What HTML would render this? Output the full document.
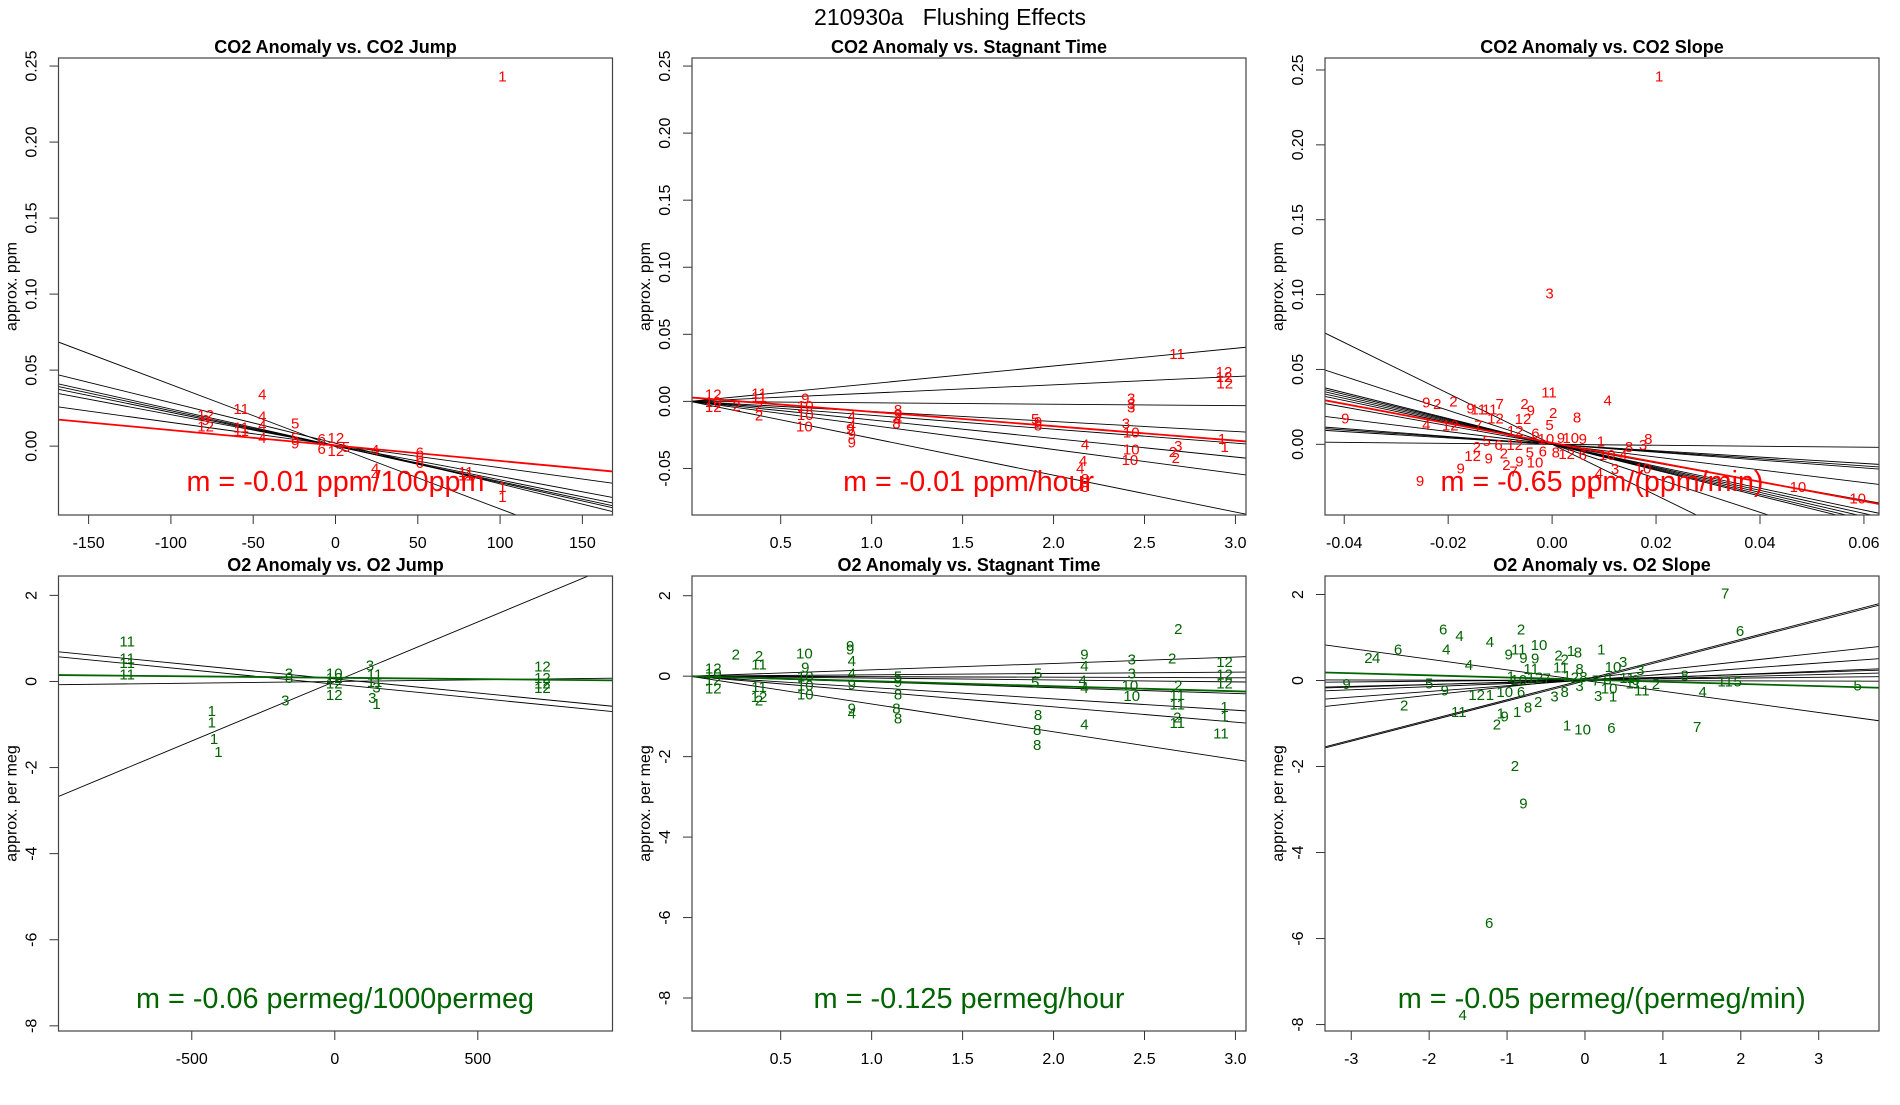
<!DOCTYPE html>
<html><head><meta charset="utf-8"><title>210930a Flushing Effects</title>
<style>
html,body{margin:0;padding:0;background:#fff;}
svg text{font-family:"Liberation Sans",Arial,sans-serif;}
</style></head>
<body>
<svg id="chart" xmlns="http://www.w3.org/2000/svg" width="1900" height="1100" viewBox="0 0 1900 1100">
<rect x="0" y="0" width="1900" height="1100" fill="#fff"/>
<text x="950" y="25" text-anchor="middle" font-size="23" style="white-space:pre">210930a&#160;&#160;&#160;Flushing Effects</text>
</svg>
<script>
// ---------- Panel 1: CO2 Anomaly vs. CO2 Jump ----------
const p1PtX = [101.4,-44.5,-57.3,-78.9,-78.9,-78.9,-57.3,-57.3,-44.5,-44.5,-44.5,-24.5,-24.5,-24.5,-8.4,0.2,-8.4,0.2,6.5,24.1,24.1,24.1,51.2,51.2,51.2,79.2,79.2,101.4,101.4];
const p1PtY = [0.2434,0.0343,0.0249,0.0209,0.0174,0.0134,0.0127,0.0103,0.0198,0.0139,0.0057,0.0151,0.0057,0.0021,0.0049,0.0057,-0.0014,-0.003,-0.0002,-0.0021,-0.0143,-0.019,-0.0037,-0.0073,-0.0108,-0.0167,-0.019,-0.0265,-0.0331];
const p1PtLab = ["1","4","11","12","9","12","11","11","4","4","4","5","5","9","6","12","6","12","5","4","4","4","6","6","6","11","11","1","1"];
const p1Slope = [-0.000409,-0.000267,-0.000242,-0.000233,-0.000222,-0.000203,-0.0001489];
const p1Icpt = [-0.0004,0.0019,0.0002,0.0,0.0,0.0004,0.0007];
const p1Fit = [-0.0001013,0.0004];
const p1XTicks = [-150,-100,-50,0,50,100,150];
const p1XTickLab = ["-150","-100","-50","0","50","100","150"];
const p1YTicks = [0,0.05,0.10,0.15,0.20,0.25];
const p1YTickLab = ["0.00","0.05","0.10","0.15","0.20","0.25"];

// ---------- Panel 2: CO2 Anomaly vs. Stagnant Time ----------
const p2PtX = [2.679,2.937,2.937,2.941,2.427,2.427,2.427,2.398,2.427,2.427,2.420,2.686,2.656,2.672,2.926,2.941,2.173,2.162,2.147,2.173,2.173,1.899,1.915,1.915,1.145,1.145,1.145,1.136,0.891,0.891,0.882,0.891,0.891,0.635,0.635,0.635,0.630,0.381,0.381,0.381,0.381,0.257,0.129,0.129,0.129];
const p2PtY = [0.0356,0.0223,0.0184,0.0138,0.0024,-0.0016,-0.0043,-0.0162,-0.0229,-0.0354,-0.0434,-0.033,-0.0375,-0.042,-0.0277,-0.0335,-0.0319,-0.0441,-0.0495,-0.0574,-0.0633,-0.0128,-0.0149,-0.0176,-0.0061,-0.0096,-0.0128,-0.0162,-0.0109,-0.0176,-0.0202,-0.0242,-0.0301,0.0024,-0.0029,-0.0096,-0.0184,0.0064,0.0037,-0.0029,-0.0101,-0.0029,0.0056,0.0,-0.0037];
const p2PtLab = ["11","12","12","12","3","3","3","3","10","10","10","3","2","2","1","1","4","4","4","8","8","5","9","8","8","9","4","8","4","4","9","9","9","9","10","10","10","11","11","2","2","2","12","10","12"];
const p2Slope = [0.0132,0.00618,-0.00105,-0.00749,-0.01037,-0.01383,-0.01792,-0.0275];
const p2Icpt = [0,0,0,0,0,0,0,0];
const p2Fit = [-0.01074,0.0030];
const p2XTicks = [0.5,1.0,1.5,2.0,2.5,3.0];
const p2XTickLab = ["0.5","1.0","1.5","2.0","2.5","3.0"];
const p2YTicks = [-0.05,0,0.05,0.10,0.15,0.20,0.25];
const p2YTickLab = ["-0.05","0.00","0.05","0.10","0.15","0.20","0.25"];

// ---------- Panel 3: CO2 Anomaly vs. CO2 Slope ----------
const p3PtX = [0.0206,-0.0005,-0.0006,0.0107,-0.0242,-0.0221,-0.019,-0.0157,-0.0142,-0.012,-0.0101,-0.0109,-0.0053,-0.0041,0.0002,-0.0056,0.0048,-0.0005,-0.0398,-0.0242,-0.0196,-0.0142,-0.0071,-0.0032,-0.0126,-0.0103,-0.0072,-0.0012,0.0017,0.0036,0.0059,0.0094,0.0185,0.0175,0.0148,-0.0145,-0.0153,-0.0122,-0.0093,-0.0043,-0.0018,0.0007,0.0028,0.0059,0.0106,0.0137,-0.0176,-0.0088,-0.0074,-0.0063,-0.0033,0.0121,0.0175,0.009,-0.0254,0.0473,0.0588,0.0075];
const p3PtY = [0.2459,0.1011,0.0351,0.0296,0.0284,0.0272,0.0291,0.0241,0.0236,0.0236,0.0272,0.0177,0.0272,0.0229,0.0212,0.0172,0.0184,0.0134,0.0177,0.0134,0.0129,0.0129,0.0093,0.0076,0.0026,0.0,0.0,0.0038,0.0045,0.0045,0.0038,0.0021,0.0038,-0.0002,-0.0014,-0.0014,-0.0074,-0.0091,-0.0057,-0.005,-0.0043,-0.005,-0.0062,-0.0067,-0.0067,-0.0067,-0.0157,-0.0134,-0.0177,-0.011,-0.0117,-0.0162,-0.0157,-0.0193,-0.0241,-0.0281,-0.0358,-0.0324];
const p3PtLab = ["1","3","11","4","9","2","2","9","11","11","7","12","2","9","2","12","8","5","9","4","12","7","12","6","5","6","12","10","9","10","9","1","8","3","8","2","12","9","2","5","6","8","12","6","10","4","9","2","7","9","10","3","10","4","9","10","10","1"];
const p3Slope = [-1.70,-1.135,-0.863,-0.835,-0.803,-0.769,-0.732,-0.622,-0.426,-0.263,-0.240,-0.213,-0.032];
const p3Icpt = [0,0,0,0,0,0,0,0,0,0,0,0,0];
const p3Fit = [-0.65,0.001];
const p3XTicks = [-0.04,-0.02,0,0.02,0.04,0.06];
const p3XTickLab = ["-0.04","-0.02","0.00","0.02","0.04","0.06"];
const p3YTicks = [0,0.05,0.10,0.15,0.20,0.25];
const p3YTickLab = ["0.00","0.05","0.10","0.15","0.20","0.25"];

// ---------- Panel 4: O2 Anomaly vs. O2 Jump ----------
const p4PtX = [-726,-726,-726,-726,-430,-430,-422,-407,-173,-160,-160,-2,-2,-2,-2,123,139,139,146,131,146,726,726,726,726];
const p4PtY = [0.938,0.548,0.44,0.174,-0.68,-0.946,-1.32,-1.63,-0.43,0.2,0.09,0.2,0.09,-0.03,-0.3,0.38,0.17,0.0,-0.13,-0.37,-0.51,0.365,0.09,-0.03,-0.14];
const p4PtLab = ["11","11","11","11","1","1","1","1","3","3","8","10","12","12","12","3","11","11","3","3","1","12","12","12","12"];
const p4Slope = [0.002765,-0.000653,-0.000657,0.0000777];
const p4Icpt = [0.0,0.058,-0.062,0.0];
const p4Fit = [-0.000064,0.087];
const p4XTicks = [-500,0,500];
const p4XTickLab = ["-500","0","500"];
const p4YTicks = [-8,-6,-4,-2,0,2];
const p4YTickLab = ["-8","-6","-4","-2","0","2"];

// ---------- Panel 5: O2 Anomaly vs. Stagnant Time ----------
const p5PtX = [0.253,0.381,0.381,0.129,0.129,0.129,0.129,0.381,0.381,0.381,0.63,0.635,0.635,0.635,0.635,0.882,0.882,0.891,0.891,0.891,0.891,0.891,1.145,1.145,1.145,1.136,1.145,1.915,1.899,1.915,1.91,1.91,2.17,2.17,2.16,2.17,2.17,2.43,2.43,2.42,2.43,2.686,2.652,2.686,2.68,2.68,2.68,2.68,2.94,2.94,2.94,2.94,2.94,2.92];
const p5PtY = [0.553,0.52,0.30,0.2,0.08,-0.08,-0.3,-0.26,-0.5,-0.59,0.58,0.23,0.0,-0.22,-0.44,0.76,0.67,0.39,0.08,-0.19,-0.79,-0.91,0.0,-0.13,-0.44,-0.79,-1.04,0.08,-0.15,-0.95,-1.33,-1.70,0.55,0.27,-0.1,-0.28,-1.19,0.43,0.08,-0.22,-0.48,1.18,0.45,-0.22,-0.46,-0.69,-1.02,-1.15,0.36,0.05,-0.17,-0.75,-0.99,-1.41];
const p5PtLab = ["2","2","11","12","10","12","12","11","12","2","10","9","10","10","10","9","9","4","4","9","9","4","5","9","8","8","8","5","5","8","8","8","9","4","4","4","4","3","3","10","10","2","2","2","11","11","2","11","12","12","12","1","1","11"];
const p5Slope = [0.158,0.0337,-0.013,-0.0474,-0.143,-0.282,-0.381,-0.691];
const p5Icpt = [0,0,0,0,0,0,0,0];
const p5Fit = [-0.125,0.0];
const p5XTicks = [0.5,1.0,1.5,2.0,2.5,3.0];
const p5XTickLab = ["0.5","1.0","1.5","2.0","2.5","3.0"];
const p5YTicks = [-8,-6,-4,-2,0,2];
const p5YTickLab = ["-8","-6","-4","-2","0","2"];

// ---------- Panel 6: O2 Anomaly vs. O2 Slope ----------
const p6PtX = [1.80,1.99,-1.82,-1.61,-1.22,-0.82,-2.40,-2.78,-2.68,-1.78,-1.49,-0.98,-0.85,-0.59,-0.79,-0.64,-0.34,-0.26,-0.18,-0.09,0.21,-0.69,-0.31,-0.07,0.36,0.49,0.71,1.28,1.80,1.96,3.50,-3.06,-2.0,-1.80,-1.39,-1.22,-1.03,-0.82,-2.32,-1.62,-1.08,-1.03,-1.13,-0.87,-0.73,-0.60,-0.39,-0.26,-0.07,0.17,0.36,0.31,-0.23,-0.03,0.34,1.44,1.51,0.62,0.73,0.91,-0.90,-0.79,-1.23,-1.57,-0.95,-0.85,-0.64,-0.49,-0.23,-0.13,-0.02,0.14,0.29,0.54,0.65];
const p6PtY = [2.03,1.16,1.20,1.05,0.91,1.2,0.73,0.54,0.54,0.73,0.37,0.62,0.73,0.84,0.54,0.52,0.59,0.5,0.7,0.66,0.73,0.28,0.31,0.28,0.32,0.44,0.26,0.13,-0.01,-0.01,-0.1,-0.07,-0.06,-0.22,-0.32,-0.32,-0.26,-0.26,-0.57,-0.72,-0.76,-0.83,-1.01,-0.72,-0.62,-0.49,-0.36,-0.26,-0.12,-0.35,-0.36,-0.18,-1.04,-1.13,-1.09,-1.07,-0.26,-0.06,-0.22,-0.07,-1.98,-2.85,-5.63,-7.77,0.11,0.02,0.08,0.06,0.12,0.08,0.09,0.01,0.03,0.07,0.02];
const p6PtLab = ["7","6","6","4","4","2","6","2","4","4","4","9","11","10","9","9","2","2","1","8","1","11","11","8","10","3","3","8","11","5","5","9","5","9","12","1","10","6","2","11","1","9","2","1","8","2","3","8","3","3","1","10","1","10","6","7","4","11","11","2","2","9","6","4","1","10","12","7","1","2","8","7","8","11","0"];
const p6Slope = [0.468,0.467,-0.248,0.196,0.132,0.072,0.058,0.046,0.018,-0.004];
const p6Icpt = [0.02,-0.01,0.0,0.05,0.01,0.0,0.02,0.0,0.02,0.0];
const p6Fit = [-0.05,0.02];
const p6XTicks = [-3,-2,-1,0,1,2,3];
const p6XTickLab = ["-3","-2","-1","0","1","2","3"];
const p6YTicks = [-8,-6,-4,-2,0,2];
const p6YTickLab = ["-8","-6","-4","-2","0","2"];

const NS = "http://www.w3.org/2000/svg";
const svg = document.getElementById("chart");
const RED = "#ff0000", GREEN = "#006400";

function mk(tag, attrs, parent) {
  const el = document.createElementNS(NS, tag);
  for (const k in attrs) el.setAttribute(k, attrs[k]);
  parent.appendChild(el);
  return el;
}

function drawPanel(cfg) {
  const g = mk("g", {}, svg);
  
  
  const L = cfg.box[0], R = cfg.box[1], T = cfg.box[2], B = cfg.box[3];
  const sx = v => L + (v - cfg.xlim[0]) / (cfg.xlim[1] - cfg.xlim[0]) * (R - L);
  const sy = v => B - (v - cfg.ylim[0]) / (cfg.ylim[1] - cfg.ylim[0]) * (B - T);
  const clipId = "clip-" + cfg.id;
  const cp = mk("clipPath", {id: clipId}, g);
  mk("rect", {x: L, y: T, width: R - L, height: B - T}, cp);

  const title = mk("text", {x: (L + R) / 2, y: T - 5, "text-anchor": "middle", "font-size": 18, "font-weight": "bold"}, g);
  title.textContent = cfg.title;
  
  

  cfg.xt.forEach((v, i) => {
    const x = sx(v);
    const tk = mk("line", {x1: x, x2: x, y1: B, y2: B + 9, stroke: "#333", "stroke-width": 1}, g);
    
    
    const t = mk("text", {x: x, y: B + 33, "text-anchor": "middle", "font-size": 16}, g);
    t.textContent = cfg.xtl[i];
    
    
  });
  cfg.yt.forEach((v, i) => {
    const y = sy(v);
    const tk = mk("line", {x1: L - 9, x2: L, y1: y, y2: y, stroke: "#333", "stroke-width": 1}, g);
    
    
    const tx = L - 22;
    const t = mk("text", {x: tx, y: y, "text-anchor": "middle", "font-size": 16, transform: "rotate(-90 " + tx + " " + y + ")"}, g);
    t.textContent = cfg.ytl[i];
    
    
  });
  const ax = L - 42, ay = (T + B) / 2;
  const yl = mk("text", {x: ax, y: ay, "text-anchor": "middle", "font-size": 16, transform: "rotate(-90 " + ax + " " + ay + ")"}, g);
  yl.textContent = cfg.ylab;
  
  

  const plot = mk("g", {"clip-path": "url(#" + clipId + ")"}, g);
  
  
  const x0 = cfg.xlim[0], x1 = cfg.xlim[1];
  cfg.slope.forEach((b, i) => {
    const a = cfg.icpt[i];
    const ln = mk("line", {x1: sx(x0), y1: sy(a + b * x0), x2: sx(x1), y2: sy(a + b * x1), stroke: "#000", "stroke-width": 0.9}, plot);
    
    
  });
  const fb = cfg.fit[0], fa = cfg.fit[1];
  const fl = mk("line", {x1: sx(x0), y1: sy(fa + fb * x0), x2: sx(x1), y2: sy(fa + fb * x1), stroke: cfg.color, "stroke-width": 1.8}, plot);
  
  
  cfg.px.forEach((v, i) => {
    const t = mk("text", {x: sx(v), y: sy(cfg.py[i]) + 5.5, "text-anchor": "middle", "font-size": 15, fill: cfg.color}, plot);
    t.textContent = cfg.pl[i];
    
    
  });
  const ann = mk("text", {x: cfg.ann[1], y: cfg.ann[2], "text-anchor": "middle", "font-size": 29, fill: cfg.color, textLength: cfg.ann[3], lengthAdjust: "spacingAndGlyphs"}, g);
  ann.textContent = cfg.ann[0];
  
  

  const frame = mk("rect", {x: L, y: T, width: R - L, height: B - T, fill: "none", stroke: "#444", "stroke-width": 1.2}, g);
  
  
}

const TOP = [58, 515], BOT = [576, 1031];
const C1 = [58.5, 612.5], C2 = [692, 1246], C3 = [1325, 1879];

drawPanel({id: "co2-jump", title: "CO2 Anomaly vs. CO2 Jump", box: [C1[0], C1[1], TOP[0], TOP[1]], xlim: [-168.3, 168.3], ylim: [-0.0453, 0.2553],
  px: p1PtX, py: p1PtY, pl: p1PtLab, slope: p1Slope, icpt: p1Icpt, fit: p1Fit, xt: p1XTicks, xtl: p1XTickLab, yt: p1YTicks, ytl: p1YTickLab,
  ylab: "approx. ppm", color: RED, ann: ["m = -0.01 ppm/100ppm", 335.5, 491, 298]});
drawPanel({id: "co2-stagnant", title: "CO2 Anomaly vs. Stagnant Time", box: [C2[0], C2[1], TOP[0], TOP[1]], xlim: [0.0124, 3.058], ylim: [-0.0847, 0.256],
  px: p2PtX, py: p2PtY, pl: p2PtLab, slope: p2Slope, icpt: p2Icpt, fit: p2Fit, xt: p2XTicks, xtl: p2XTickLab, yt: p2YTicks, ytl: p2YTickLab,
  ylab: "approx. ppm", color: RED, ann: ["m = -0.01 ppm/hour", 968.6, 491, 251]});
drawPanel({id: "co2-slope", title: "CO2 Anomaly vs. CO2 Slope", box: [C3[0], C3[1], TOP[0], TOP[1]], xlim: [-0.0437, 0.0629], ylim: [-0.0472, 0.258],
  px: p3PtX, py: p3PtY, pl: p3PtLab, slope: p3Slope, icpt: p3Icpt, fit: p3Fit, xt: p3XTicks, xtl: p3XTickLab, yt: p3YTicks, ytl: p3YTickLab,
  ylab: "approx. ppm", color: RED, ann: ["m = -0.65 ppm/(ppm/min)", 1602, 491, 323]});
drawPanel({id: "o2-jump", title: "O2 Anomaly vs. O2 Jump", box: [C1[0], C1[1], BOT[0], BOT[1]], xlim: [-966, 971], ylim: [-8.12, 2.45],
  px: p4PtX, py: p4PtY, pl: p4PtLab, slope: p4Slope, icpt: p4Icpt, fit: p4Fit, xt: p4XTicks, xtl: p4XTickLab, yt: p4YTicks, ytl: p4YTickLab,
  ylab: "approx. per meg", color: GREEN, ann: ["m = -0.06 permeg/1000permeg", 335, 1008, 398]});
drawPanel({id: "o2-stagnant", title: "O2 Anomaly vs. Stagnant Time", box: [C2[0], C2[1], BOT[0], BOT[1]], xlim: [0.0124, 3.058], ylim: [-8.82, 2.49],
  px: p5PtX, py: p5PtY, pl: p5PtLab, slope: p5Slope, icpt: p5Icpt, fit: p5Fit, xt: p5XTicks, xtl: p5XTickLab, yt: p5YTicks, ytl: p5YTickLab,
  ylab: "approx. per meg", color: GREEN, ann: ["m = -0.125 permeg/hour", 969, 1008, 311]});
drawPanel({id: "o2-slope", title: "O2 Anomaly vs. O2 Slope", box: [C3[0], C3[1], BOT[0], BOT[1]], xlim: [-3.337, 3.774], ylim: [-8.15, 2.43],
  px: p6PtX, py: p6PtY, pl: p6PtLab, slope: p6Slope, icpt: p6Icpt, fit: p6Fit, xt: p6XTicks, xtl: p6XTickLab, yt: p6YTicks, ytl: p6YTickLab,
  ylab: "approx. per meg", color: GREEN, ann: ["m = -0.05 permeg/(permeg/min)", 1601.7, 1008, 408]});
</script>
</body></html>
